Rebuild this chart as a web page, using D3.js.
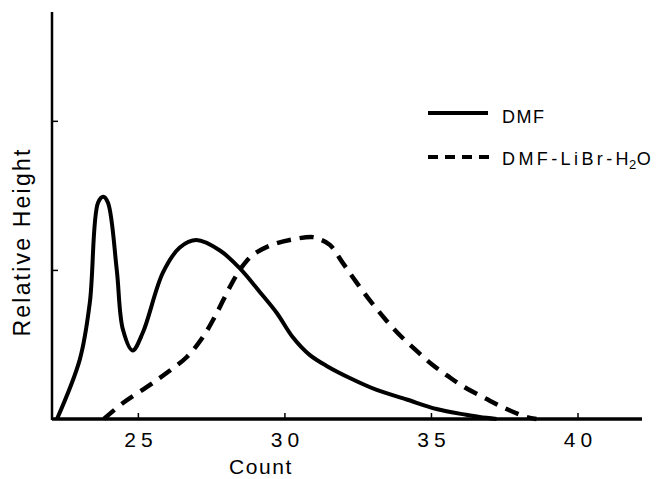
<!DOCTYPE html>
<html>
<head>
<meta charset="utf-8">
<script src="https://cdn.jsdelivr.net/npm/d3@7"></script>
<style>
  body { margin: 0; background: #fff; }
  text { font-family: "Liberation Sans", Arial, sans-serif; fill: #000; }
</style>
</head>
<body>
<div class="chart"></div>
<script>
// DMF curve (count, relative height)
let dmfCount = [22.24, 23.02, 23.36, 23.64, 23.82, 23.98, 24.28, 24.49, 24.82, 25.17, 25.85, 26.43, 27.0, 27.8, 28.48, 29.16, 29.74, 30.28, 30.86, 31.44, 32.23, 33.15, 34.17, 35.19, 36.2, 36.66, 37.24];
let dmfHeight = [0, 0.40, 0.78, 1.45, 1.49, 1.45, 1.00, 0.60, 0.46, 0.58, 0.98, 1.15, 1.20, 1.13, 1.01, 0.852, 0.711, 0.55, 0.43, 0.356, 0.275, 0.195, 0.131, 0.067, 0.028, 0.013, 0];
// DMF-LiBr-H2O curve
let mixCount = [23.84, 24.49, 25.31, 25.99, 26.67, 27.22, 27.69, 28.14, 28.55, 28.92, 29.6, 30.42, 30.97, 31.14, 31.55, 31.99, 32.47, 33.01, 33.49, 34.0, 34.55, 35.06, 35.57, 36.08, 36.9, 37.58, 38.26, 38.6];
let mixHeight = [0, 0.107, 0.215, 0.31, 0.416, 0.55, 0.71, 0.886, 1.02, 1.10, 1.17, 1.21, 1.22, 1.21, 1.168, 1.047, 0.913, 0.772, 0.658, 0.55, 0.45, 0.362, 0.289, 0.221, 0.134, 0.067, 0.013, 0];
let xTicks = [25, 30, 35, 40];
let yTicks = [1, 2];

let svg = d3.select('.chart')
    .append('svg')
    .attr('width', 660)
    .attr('height', 479);

let x = d3.scaleLinear().domain([22.07, 42.2]).range([52, 642]);
let y = d3.scaleLinear().domain([0, 2.73]).range([419, 12]);

// x axis
let xAxis = svg.append('g')
    .attr('transform', 'translate(0,419)')
    .call(d3.axisBottom(x).tickValues(xTicks).tickSize(-6).tickFormat(d3.format('d')));
xAxis.select('.domain').attr('stroke-width', 3.5).attr('d', 'M52,0H642');
xAxis.selectAll('.tick line').attr('stroke-width', 1.5);
xAxis.selectAll('.tick text')
    .attr('y', 28)
    .attr('dy', 0)
    .attr('dx', 2.5)
    .attr('font-size', 21)
    .attr('letter-spacing', 5)
    .style('font-family', '"Liberation Sans", Arial, sans-serif');

// y axis
let yAxis = svg.append('g')
    .attr('transform', 'translate(52,0)')
    .call(d3.axisLeft(y).tickValues(yTicks).tickSize(-6).tickFormat(''));
yAxis.select('.domain').attr('stroke-width', 2.5).attr('d', 'M0,12V420');
yAxis.selectAll('.tick line').attr('stroke-width', 1.5);

svg.append('text')
    .attr('transform', 'translate(30,242) rotate(-90)')
    .attr('text-anchor', 'middle')
    .attr('font-size', 23)
    .attr('letter-spacing', 2.2)
    .text('Relative Height');

svg.append('text')
    .attr('x', 261)
    .attr('y', 474)
    .attr('text-anchor', 'middle')
    .attr('font-size', 21)
    .attr('letter-spacing', 1.6)
    .text('Count');

let line = d3.line()
    .x(d => x(d[0]))
    .y(d => y(d[1]))
    .curve(d3.curveCatmullRom.alpha(0.5));

svg.append('path')
    .datum(d3.zip(dmfCount, dmfHeight))
    .attr('fill', 'none')
    .attr('stroke', '#000')
    .attr('stroke-width', 4)
    .attr('d', line);

svg.append('path')
    .datum(d3.zip(mixCount, mixHeight))
    .attr('fill', 'none')
    .attr('stroke', '#000')
    .attr('stroke-width', 4.5)
    .attr('stroke-dasharray', '14,9')
    .attr('d', line);

// legend
let legend = svg.append('g');
legend.append('line')
    .attr('x1', 428).attr('x2', 488).attr('y1', 113).attr('y2', 113)
    .attr('stroke', '#000').attr('stroke-width', 4);
legend.append('text')
    .attr('x', 502).attr('y', 123)
    .attr('font-size', 18)
    .attr('letter-spacing', 1.5)
    .text('DMF');
legend.append('line')
    .attr('x1', 428).attr('x2', 490).attr('y1', 157).attr('y2', 157)
    .attr('stroke', '#000').attr('stroke-width', 4)
    .attr('stroke-dasharray', '10,7');
let t2 = legend.append('text')
    .attr('x', 502).attr('y', 165)
    .attr('font-size', 18)
    .attr('letter-spacing', 3.4);
t2.append('tspan').text('DMF-LiBr-');
t2.append('tspan').attr('letter-spacing', 0.5).text('H');
t2.append('tspan').attr('font-size', 13).attr('letter-spacing', 0.5).attr('dy', 4).text('2');
t2.append('tspan').attr('dy', -4).text('O');
</script>
</body>
</html>
